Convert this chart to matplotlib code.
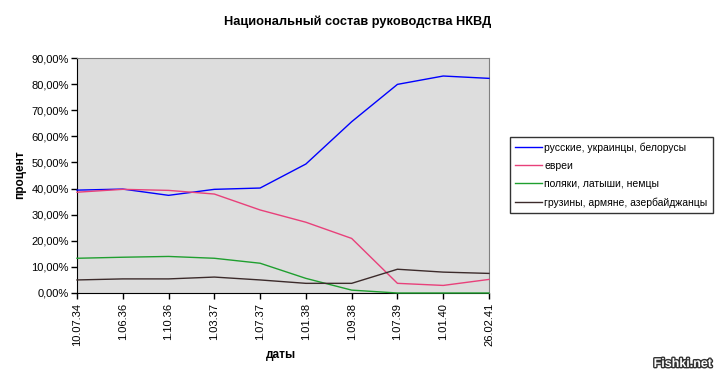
import matplotlib
matplotlib.use("Agg")
import matplotlib.pyplot as plt
import matplotlib.patheffects as pe
from matplotlib.ticker import FuncFormatter

plt.rcParams['font.family'] = ['Liberation Sans', 'DejaVu Sans']

# ================= DATA =================
dates = ["10.07.34", "1.06.36", "1.10.36", "1.03.37", "1.07.37",
         "1.01.38", "1.09.38", "1.07.39", "1.01.40", "26.02.41"]

russians = [39.4, 39.8, 37.4, 39.7, 40.2, 49.4, 65.6, 79.9, 83.1, 82.2]
jews = [38.6, 39.7, 39.3, 37.9, 31.8, 27.1, 20.9, 3.7, 2.9, 5.2]
poles = [13.3, 13.7, 14.0, 13.3, 11.4, 5.6, 1.1, 0.0, 0.0, 0.0]
georgians = [5.0, 5.4, 5.4, 6.1, 5.0, 3.7, 3.7, 9.1, 8.0, 7.5]

labels = ["русские, украинцы, белорусы", "евреи",
          "поляки, латыши, немцы", "грузины, армяне, азербайджанцы"]
colors = ["#0000ff", "#e8407a", "#1f9f2f", "#3c2b2b"]

# ================= PLOT =================
fig = plt.figure(figsize=(7.2, 3.76), dpi=100)
ax = fig.add_axes([77 / 720, 1 - 293 / 376, (489 - 77) / 720, (293 - 58) / 376])
ax.set_facecolor("#dddddd")

x = list(range(len(dates)))
for series, lab, col in zip([russians, jews, poles, georgians], labels, colors):
    ax.plot(x, series, color=col, lw=1.0, label=lab, zorder=3, clip_on=False)

ax.set_xlim(0, len(dates) - 1)
ax.set_ylim(0, 90)
ax.set_yticks(range(0, 91, 10))
ax.yaxis.set_major_formatter(FuncFormatter(lambda v, p: f"{v:.2f}%".replace(".", ",")))
ax.set_xticks(x)
ax.set_xticklabels(dates, rotation=90, fontsize=8)
ax.tick_params(axis="y", labelsize=8, length=4, direction="out", width=1, pad=2)
ax.tick_params(axis="x", length=4, direction="out", width=1, pad=3)

for side in ["top", "right"]:
    ax.spines[side].set_color("#808080")
for side in ["left", "bottom"]:
    ax.spines[side].set_color("black")
    ax.spines[side].set_zorder(2)

fig.text(358 / 720, 1 - 22 / 376, "Национальный состав руководства НКВД",
         ha="center", va="center", fontsize=9.2, fontweight="bold")
fig.text(20 / 720, 1 - 175 / 376, "процент", rotation=90,
         ha="center", va="center", fontsize=8.5, fontweight="bold")
fig.text(281 / 720, 1 - 355 / 376, "даты",
         ha="center", va="center", fontsize=8.5, fontweight="bold")

leg = fig.legend(loc="upper left", bbox_to_anchor=(510 / 720, 1 - 137 / 376),
                 fontsize=7.5, frameon=True, fancybox=False, shadow=False,
                 handlelength=2.6, handletextpad=0.2, labelspacing=0.78,
                 borderpad=0.5, borderaxespad=0)
leg.get_frame().set_edgecolor("black")
leg.get_frame().set_linewidth(1.0)

wm = fig.text(712 / 720, 1 - 364 / 376, "Fishki.net", ha="right", va="center",
              fontsize=9, fontweight="bold", color="white")
wm.set_path_effects([pe.withStroke(linewidth=2, foreground="#333333")])

fig.savefig("out.png", dpi=100, facecolor="white")
